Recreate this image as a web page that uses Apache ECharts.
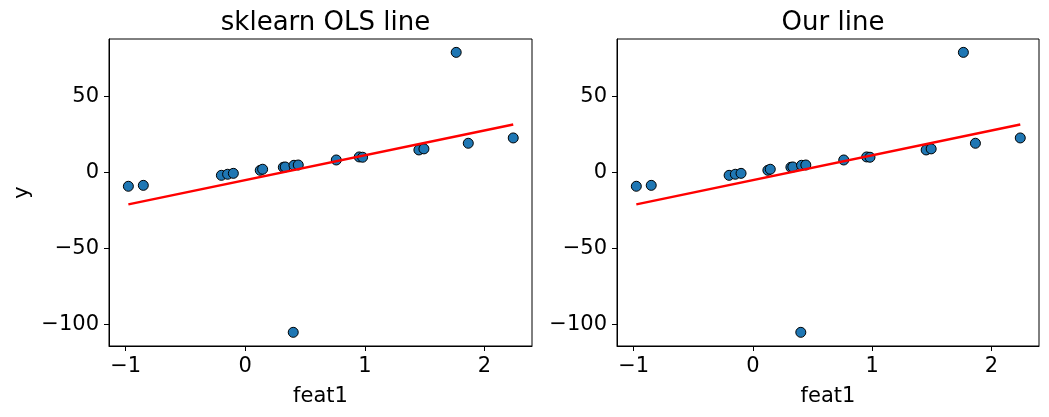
<!DOCTYPE html>
<html>
<head>
<meta charset="utf-8">
<script src="https://cdn.jsdelivr.net/npm/echarts@6/dist/echarts.min.js"></script>
<style>
  html, body { margin: 0; padding: 0; background: #fff; }
  #chart { width: 1049px; height: 417px; }
</style>
</head>
<body>
<div id="chart"></div>
<script>
// values
const featX = [-0.978, -0.853, -0.20, -0.148, -0.10, 0.125, 0.145, 0.318, 0.334, 0.407,
  0.443, 0.401, 0.761, 0.953, 0.981, 1.452, 1.494, 1.764, 1.865, 2.241]
const targetY = [-9.2, -8.6, -2.0, -1.3, -0.7, 1.3, 2.0, 3.3, 3.5, 4.6,
  4.8, -105.3, 8.1, 10.1, 9.9, 14.7, 15.4, 78.9, 19.1, 22.6]
const lineX = [-0.978, 2.241]
const lineY = [-21.1, 31.4]
const xTicks = [-1, 0, 1, 2]
const yTicks = [-100, -50, 0, 50]
const titles = ['sklearn OLS line', 'Our line']

const font = 'DejaVu Sans'
const minus = v => String(v).replace('-', '\u2212')

const grids = [
  { left: 109, top: 39, width: 423, height: 307 },
  { left: 617, top: 39, width: 422, height: 307 }
]

const option = {
  animation: false,
  backgroundColor: '#fff',
  title: grids.map((g, i) => ({
    text: titles[i],
    left: g.left + g.width / 2,
    top: 5,
    textAlign: 'center',
    textStyle: { fontFamily: font, fontSize: 26, fontWeight: 'normal', color: '#000' }
  })),
  grid: grids.map(g => ({
    left: g.left, top: g.top, width: g.width, height: g.height,
    show: true, borderColor: '#000', borderWidth: 1,
    containLabel: false, outerBoundsMode: 'none'
  })),
  xAxis: grids.map((g, i) => ({
    gridIndex: i,
    type: 'value',
    min: -1.14,
    max: 2.398,
    name: 'feat1',
    nameLocation: 'middle',
    nameGap: 40,
    nameTextStyle: { fontFamily: font, fontSize: 21, color: '#000' },
    splitLine: { show: false },
    axisLine: { show: true, onZero: false, lineStyle: { color: '#000', width: 1 } },
    axisTick: { show: true, inside: false, length: 5, customValues: xTicks, lineStyle: { color: '#000' } },
    axisLabel: {
      customValues: xTicks, margin: 10, formatter: minus,
      fontFamily: font, fontSize: 21, color: '#000'
    }
  })),
  yAxis: grids.map((g, i) => ({
    gridIndex: i,
    type: 'value',
    min: -114.3,
    max: 87.7,
    name: i === 0 ? 'y' : '',
    nameLocation: 'middle',
    nameGap: 76,
    nameTextStyle: { fontFamily: font, fontSize: 21, color: '#000' },
    splitLine: { show: false },
    axisLine: { show: true, onZero: false, lineStyle: { color: '#000', width: 1 } },
    axisTick: { show: true, inside: false, length: 5, customValues: yTicks, lineStyle: { color: '#000' } },
    axisLabel: {
      customValues: yTicks, margin: 10, formatter: minus,
      fontFamily: font, fontSize: 21, color: '#000'
    }
  })),
  series: []
}

grids.forEach((g, i) => {
  option.series.push({
    type: 'scatter',
    xAxisIndex: i, yAxisIndex: i,
    symbolSize: 10,
    itemStyle: { color: '#1f77b4', borderColor: '#000', borderWidth: 1, opacity: 1 },
    data: featX.map((x, k) => [x, targetY[k]]),
    z: 2
  })
  option.series.push({
    type: 'line',
    xAxisIndex: i, yAxisIndex: i,
    showSymbol: false,
    lineStyle: { color: '#ff0000', width: 2.5 },
    data: lineX.map((x, k) => [x, lineY[k]]),
    z: 3
  })
})

const chart = echarts.init(document.getElementById('chart'))
chart.setOption(option)
</script>
</body>
</html>
